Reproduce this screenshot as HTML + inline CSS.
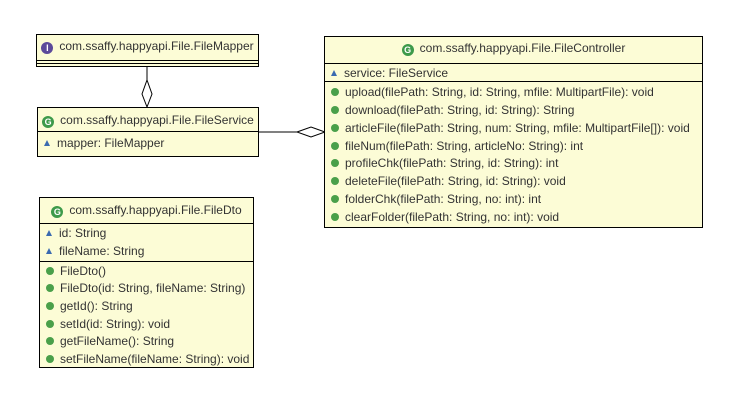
<!DOCTYPE html>
<html><head><meta charset="utf-8"><style>
body{margin:0;width:748px;height:412px;background:#fff;position:relative;overflow:hidden;font-family:"Liberation Sans","Noto Sans CJK KR",sans-serif;font-size:12px;color:#333}
.box{position:absolute;background:#fcfcd6;border:1px solid #000;box-sizing:border-box}
.hd{position:absolute;left:0;right:0;text-align:center;white-space:nowrap;color:#333}
.sep{position:absolute;left:0;right:0;border-top:1px solid #000}
.row{position:absolute;left:6px;white-space:nowrap;line-height:16px}
.g{display:inline-block;width:8px;height:8px;border-radius:50%;background:#4aa04a;margin-right:6px;vertical-align:0px}
.t{display:inline-block;width:0;height:0;border-left:3.5px solid transparent;border-right:3.5px solid transparent;border-bottom:6px solid #3a6ab0;margin-right:7px;vertical-align:1px}
.C{display:inline-block;width:12px;height:12px;border-radius:50%;background:#3d9a4a;color:#fff;font-size:9px;font-weight:bold;line-height:12px;text-align:center;margin-right:6px;vertical-align:-1px}
.I{background:#5c4a9a}
</style></head><body>
<svg width="748" height="412" style="position:absolute;left:0;top:0">
<line x1="147" y1="66" x2="147" y2="80" stroke="#000"/>
<polygon points="147,80 152,94 147,107 142,94" fill="#fff" stroke="#000"/>
<line x1="258" y1="132" x2="297" y2="132" stroke="#000"/>
<polygon points="297,132 311,127 325,132 311,137" fill="#fff" stroke="#000"/>
</svg>

<div class="box" style="left:36px;top:34px;width:223px;height:33px">
<div class="hd" style="top:4px"><span class="C I">I</span>com.ssaffy.happyapi.File.FileMapper</div>
<div class="sep" style="top:25px"></div><div class="sep" style="top:28px"></div>
</div>

<div class="box" style="left:37px;top:107px;width:222px;height:50px">
<div class="hd" style="top:5px"><span class="C">G</span>com.ssaffy.happyapi.File.FileService</div>
<div class="sep" style="top:23px"></div>
<div class="row" style="top:27px"><span class="t"></span>mapper: FileMapper</div>
</div>

<div class="box" style="left:324px;top:36px;width:379px;height:192px">
<div class="hd" style="top:4px"><span class="C">G</span>com.ssaffy.happyapi.File.FileController</div>
<div class="sep" style="top:26px"></div>
<div class="row" style="top:28px"><span class="t"></span>service: FileService</div>
<div class="sep" style="top:44px"></div>
<div class="row" style="top:47px"><span class="g"></span>upload(filePath: String, id: String, mfile: MultipartFile): void</div>
<div class="row" style="top:65px"><span class="g"></span>download(filePath: String, id: String): String</div>
<div class="row" style="top:83px"><span class="g"></span>articleFile(filePath: String, num: String, mfile: MultipartFile[]): void</div>
<div class="row" style="top:101px"><span class="g"></span>fileNum(filePath: String, articleNo: String): int</div>
<div class="row" style="top:118px"><span class="g"></span>profileChk(filePath: String, id: String): int</div>
<div class="row" style="top:136px"><span class="g"></span>deleteFile(filePath: String, id: String): void</div>
<div class="row" style="top:154px"><span class="g"></span>folderChk(filePath: String, no: int): int</div>
<div class="row" style="top:172px"><span class="g"></span>clearFolder(filePath: String, no: int): void</div>
</div>

<div class="box" style="left:39px;top:197px;width:215px;height:171px">
<div class="hd" style="top:5px"><span class="C">G</span>com.ssaffy.happyapi.File.FileDto</div>
<div class="sep" style="top:25px"></div>
<div class="row" style="top:27px"><span class="t"></span>id: String</div>
<div class="row" style="top:45px"><span class="t"></span>fileName: String</div>
<div class="sep" style="top:63px"></div>
<div class="row" style="top:65px"><span class="g"></span>FileDto()</div>
<div class="row" style="top:82px"><span class="g"></span>FileDto(id: String, fileName: String)</div>
<div class="row" style="top:100px"><span class="g"></span>getId(): String</div>
<div class="row" style="top:118px"><span class="g"></span>setId(id: String): void</div>
<div class="row" style="top:135px"><span class="g"></span>getFileName(): String</div>
<div class="row" style="top:153px"><span class="g"></span>setFileName(fileName: String): void</div>
</div>
</body></html>
